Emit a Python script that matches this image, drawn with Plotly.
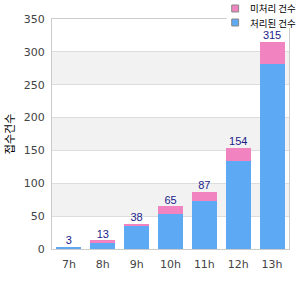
import plotly.graph_objects as go

hours = ["7h", "8h", "9h", "10h", "11h", "12h", "13h"]
blue_vals = [3, 9, 35, 54, 73, 134, 282]
pink_vals = [0, 4, 3, 11, 14, 20, 33]
totals = [3, 13, 38, 65, 87, 154, 315]
y_ticks = [0, 50, 100, 150, 200, 250, 300, 350]
blue_name = "처리된 건수"
pink_name = "미처리 건수"
y_title = "접수건수"

BLUE = "#5ea9f4"
PINK = "#f184c0"

fig = go.Figure()
fig.add_trace(go.Bar(x=hours, y=blue_vals, name=blue_name, showlegend=False,
                     marker=dict(color=BLUE, line=dict(width=0))))
fig.add_trace(go.Bar(x=hours, y=pink_vals, name=pink_name, showlegend=False,
                     marker=dict(color=PINK, line=dict(width=0))))
fig.add_trace(go.Scatter(x=hours, y=totals, mode="text", text=[str(t) for t in totals],
                         textposition="top center", showlegend=False,
                         textfont=dict(color="#1b1b8a", size=11, family="Liberation Sans"),
                         cliponaxis=False, hoverinfo="skip"))

shapes = []
for i in range(1, len(y_ticks) - 1, 2):
    shapes.append(dict(type="rect", xref="paper", x0=0, x1=1, yref="y",
                       y0=y_ticks[i], y1=y_ticks[i + 1], fillcolor="#f2f2f2",
                       line=dict(width=0), layer="below"))

# compact legend box (white background, top right)
W, H, L, T = 240.0, 230.0, 50.0, 19.0
def px(x):
    return (x - L) / W
def py(y):
    return (T + H - y) / H

shapes.append(dict(type="rect", xref="paper", yref="paper", x0=px(227), x1=px(293),
                   y0=py(28), y1=py(-1), fillcolor="white", line=dict(width=0), layer="above"))
annotations = []
for name, col, yc in [(pink_name, PINK, 8.5), (blue_name, BLUE, 22.5)]:
    shapes.append(dict(type="rect", xref="paper", yref="paper",
                       x0=px(232), x1=px(239), y0=py(yc + 3.5), y1=py(yc - 3.5),
                       fillcolor=col, line=dict(color="#888888", width=1), layer="above"))
    annotations.append(dict(xref="paper", yref="paper", x=px(248), y=py(yc),
                            xanchor="left", yanchor="middle", showarrow=False,
                            text=name, font=dict(size=9.5, color="#000", family="Noto Sans CJK KR")))

fig.update_layout(
    width=300, height=300,
    margin=dict(l=50, r=10, t=19, b=51),
    barmode="stack", bargap=0.26,
    plot_bgcolor="white", paper_bgcolor="white",
    shapes=shapes, annotations=annotations,
    showlegend=False,
    font=dict(family="DejaVu Sans", size=11, color="#444"),
    xaxis=dict(showline=True, linecolor="#cccccc", mirror=True, ticks="",
               ticklabelstandoff=5,
               tickfont=dict(size=11, color="#444")),
    yaxis=dict(range=[0, 350], tickvals=y_ticks, showline=True, linecolor="#cccccc",
               mirror=True, gridcolor="#dddddd", zeroline=False,
               ticklabelstandoff=4,
               tickfont=dict(size=11, color="#444"),
               title=dict(text=y_title, font=dict(size=11, color="#000", family="Noto Sans CJK KR"),
                          standoff=6)),
)
fig.write_html("out.html")
